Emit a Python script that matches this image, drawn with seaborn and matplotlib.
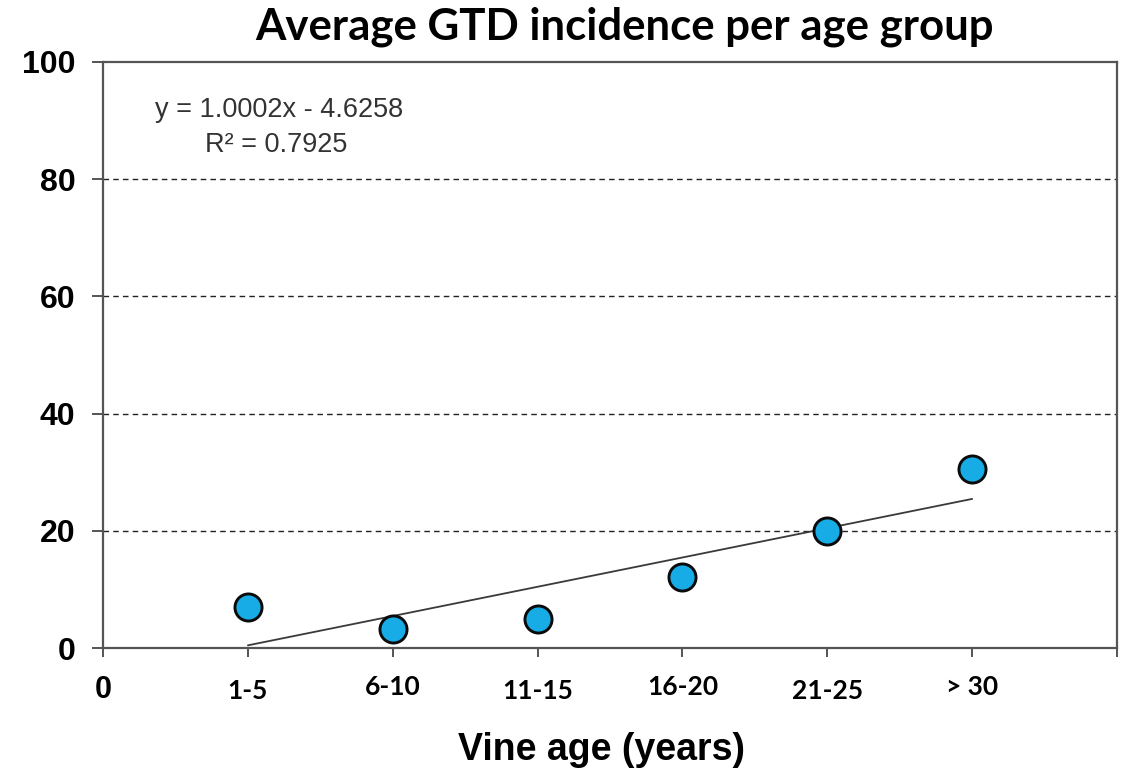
import numpy as np
import pandas as pd
import matplotlib
matplotlib.use("Agg")
import matplotlib.pyplot as plt
import matplotlib.transforms as mtransforms
import seaborn as sns

# Vine age classes and mean GTD incidence (%)
age_groups = ["1-5", "6-10", "11-15", "16-20", "21-25", "> 30"]
incidence = [7.0, 3.2, 4.9, 12.2, 19.9, 30.5]
y_ticks = [0, 20, 40, 60, 80, 100]

df = pd.DataFrame({"pos": np.arange(1, len(age_groups) + 1), "incidence": incidence})

sns.set_theme(style="white")
plt.rcParams["font.family"] = ["Liberation Sans", "DejaVu Sans"]
plt.rcParams["text.color"] = "black"
plt.rcParams["axes.labelcolor"] = "black"

fig = plt.figure(figsize=(11.3, 7.72), dpi=100)
ax = fig.add_axes([0.0912, 0.1606, 0.8973, 0.7591])

# Linear trend line over the age classes
sns.regplot(data=df, x="pos", y="incidence", ax=ax, scatter=False, ci=None,
            truncate=True, line_kws={"color": "#3a3a3a", "lw": 1.3})
sns.scatterplot(data=df, x="pos", y="incidence", ax=ax, s=380,
                color="#17ace6", edgecolor="#0b0b0b", linewidth=2.1, zorder=5)

ax.set_xlim(0, 7)
ax.set_ylim(0, 100)
ax.set_yticks(y_ticks)
ax.set_yticklabels([str(v) for v in y_ticks], fontsize=23, fontweight="bold")
ax.set_xticks(range(0, 8))
ax.set_xticklabels(["0"] + age_groups + [""])

for v in y_ticks[1:-1]:
    ax.axhline(v, color="#222222", lw=1.0, ls=(0, (4, 3)), zorder=1)

for s in ax.spines.values():
    s.set_color("#555555")
    s.set_linewidth(1.6)

ax.tick_params(axis="y", direction="out", length=8, width=1.4, color="#555555",
               pad=12, left=True, labelcolor="black")
ax.tick_params(axis="x", direction="out", length=6.5, width=1.4, color="#555555",
               pad=13, bottom=True, labelcolor="black")

labels = ax.get_xticklabels()
labels[0].set_fontfamily(["Liberation Sans", "DejaVu Sans"])
labels[0].set_fontweight("bold")
labels[0].set_fontsize(22)
for i, lab in enumerate(labels[1:]):
    lab.set_fontfamily(["Lato", "DejaVu Sans"])
    lab.set_fontweight("bold")
    lab.set_fontsize(19)
    if i % 2 == 0:
        lab.set_transform(lab.get_transform() +
                          mtransforms.ScaledTranslation(0, -4 / 100, fig.dpi_scale_trans))

ax.set_xlabel("Vine age (years)", fontsize=27, fontweight="bold")
ax.xaxis.set_label_coords(0.492, -0.143)
ax.xaxis.label.set_va("top")
ax.set_ylabel("")
ax.set_title("Average GTD incidence per age group", fontsize=31.5, fontweight="bold",
             family=["Lato", "DejaVu Sans"], pad=16, x=0.514)

ax.text(0.0513, 0.906, "y = 1.0002x - 4.6258", transform=ax.transAxes,
        fontsize=19.5, color="#333333", ha="left", va="baseline")
ax.text(0.1006, 0.846, "R² = 0.7925", transform=ax.transAxes,
        fontsize=19.5, color="#333333", ha="left", va="baseline")

fig.savefig("out.png", dpi=100)
